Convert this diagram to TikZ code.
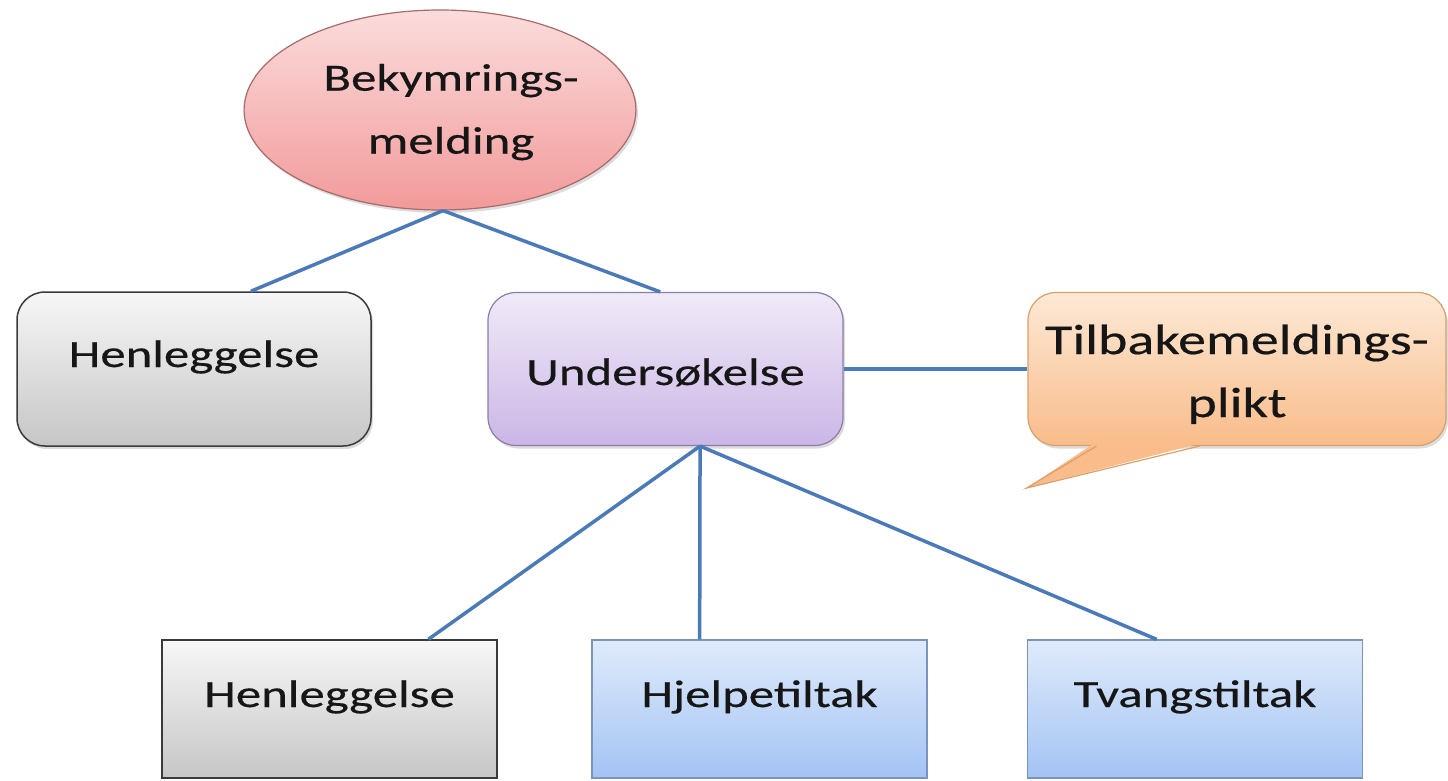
\documentclass[tikz,border=0pt]{standalone}
\usepackage{fontspec}
\setmainfont{Carlito}[FakeStretch=1.32, FakeBold=0.4]
\usetikzlibrary{shapes.geometric,shadows,calc}
\definecolor{textcol}{HTML}{161616}
\definecolor{linecol}{HTML}{4A7AB8}
\definecolor{pinkT}{HTML}{FBDCDC}
\definecolor{pinkB}{HTML}{F29A9A}
\definecolor{pinkD}{HTML}{A86A6A}
\definecolor{grayT}{HTML}{F7F7F7}
\definecolor{grayB}{HTML}{C6C6C6}
\definecolor{grayD}{HTML}{3A3A3A}
\definecolor{purT}{HTML}{F0EAF8}
\definecolor{purB}{HTML}{CBB6E6}
\definecolor{purD}{HTML}{8C7CA8}
\definecolor{orT}{HTML}{FDE9D6}
\definecolor{orB}{HTML}{F9BC8A}
\definecolor{orD}{HTML}{D9A06A}
\definecolor{bluT}{HTML}{DFEBFB}
\definecolor{bluB}{HTML}{A3C3F4}
\definecolor{bluD}{HTML}{7A94BE}
\begin{document}
\begin{tikzpicture}[x=1pt,y=-1pt,
  txt/.style={font=\fontsize{38.5}{63}\selectfont, text=textcol, inner sep=0pt},
  conn/.style={draw=linecol, line width=3.5pt},
  shad/.style={drop shadow={shadow xshift=2pt, shadow yshift=-3pt, opacity=0.28}},
  lowtext/.style={text height=10pt, text depth=14pt},
  ovalbox/.style={txt, ellipse, draw=pinkD, line width=1.2pt, top color=pinkT, bottom color=pinkB,
    minimum width=384pt, minimum height=200pt, align=center, shad},
  graybox/.style={txt, rectangle, rounded corners=28pt, draw=grayD, line width=1.5pt,
    top color=grayT, bottom color=grayB, minimum width=354pt, minimum height=154pt, shad},
  purbox/.style={txt, rectangle, rounded corners=28pt, draw=purD, line width=1.2pt,
    top color=purT, bottom color=purB, minimum width=355pt, minimum height=153pt, shad},
  orbox/.style={txt, font=\fontsize{42.5}{63}\selectfont, rectangle, rounded corners=28pt, draw=orD, line width=1.2pt,
    top color=orT, bottom color=orB, minimum width=418pt, minimum height=153pt, align=center, shad},
  graysq/.style={txt, rectangle, draw=grayD, line width=1.5pt,
    top color=grayT, bottom color=grayB, minimum width=335pt, minimum height=138pt},
  blusq/.style={txt, rectangle, draw=bluD, line width=1.2pt,
    top color=bluT, bottom color=bluB, minimum width=335pt, minimum height=138pt}
]
\useasboundingbox (0,0) rectangle (1448,781);

% nodes
\node[ovalbox] (bek) at (440,110) {\rule{0pt}{31pt}\hspace*{22pt}Bekymrings-\\\hspace*{22pt}melding};
\node[graybox, lowtext] (hen1) at (194,369) {Henleggelse};
\node[purbox, text height=32pt, text depth=0pt] (und) at (665.5,369) {Undersøkelse};
\node[orbox] (tb) at (1237,369) {\rule{0pt}{40pt}Tilbakemeldings-\\plikt};
\node[graysq, lowtext] (hen2) at (329.5,709) {Henleggelse};
\node[blusq, lowtext] (hje) at (759.5,709) {Hjelpetiltak};
\node[blusq, lowtext] (tva) at (1195,709) {Tvangstiltak};

% callout tail
\coordinate (tA) at ($(tb.south west)+(69,0)$);
\coordinate (tB) at ($(tb.south west)+(172,0)$);
\coordinate (tip) at ($(tb.south west)+(-1,42)$);
\fill[orB] ($(tA)+(-2,-3)$) -- (tip) -- ($(tB)+(2,-3)$) -- cycle;
\draw[orD, line width=1.2pt, line join=miter] (tA) -- (tip) -- (tB);

% connector anchor points
\coordinate (bekbot) at ($(bek.south)+(3,0)$);
\coordinate (hen1top) at ($(hen1.north west)!0.66!(hen1.north east)$);
\coordinate (undtop) at ($(und.north west)!0.485!(und.north east)$);
\coordinate (undbot) at ($(und.south west)!0.597!(und.south east)$);
\coordinate (hen2top) at ($(hen2.north west)!0.794!(hen2.north east)$);
\coordinate (hjetop) at ($(hje.north west)!0.322!(hje.north east)$);
\coordinate (tvatop) at ($(tva.north west)!0.386!(tva.north east)$);

% connectors
\draw[conn] (bekbot) -- (hen1top);
\draw[conn] (bekbot) -- (undtop);
\draw[conn] (und.east) -- (tb.west);
\draw[conn] (undbot) -- (hen2top);
\draw[conn] (undbot) -- (hjetop);
\draw[conn] (undbot) -- (tvatop);
\end{tikzpicture}
\end{document}
